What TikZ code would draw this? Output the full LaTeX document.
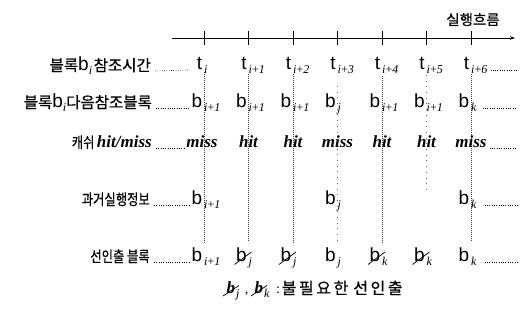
\documentclass[tikz,border=0pt]{standalone}
\usepackage{fontspec}
\setmainfont{Liberation Serif}
\newfontfamily\krf{Noto Sans CJK KR}[FakeBold=0.6]
\newfontfamily\krs{Noto Sans CJK KR}[FakeBold=0.6, LetterSpace=16]
\newfontfamily\lsf{Liberation Sans}
\usetikzlibrary{arrows.meta,calc}
\newcommand\Lt[1]{{\lsf\fontsize{19}{19}\selectfont #1}}
\newcommand\Sx[1]{\raisebox{-3.5pt}{\fontsize{12}{12}\selectfont\itshape #1}}
\newcommand\Ip{{\itshape i}{\upshape +}{\itshape 1}}
\newcommand\Ipn[1]{{\itshape i}{\upshape +}{\itshape #1}}
\newcommand\cellx[2]{\llap{\Lt{#1}\hspace{2pt}}\Sx{#2}}
\newcommand\Kr[1]{\scalebox{0.88}[1.08]{\krf\fontsize{14}{14}\selectfont #1}}
\newcommand\KrB[1]{{\krf\fontsize{15.5}{15.5}\selectfont #1}}
\newcommand\KrF[1]{{\krf\fontsize{14.5}{14.5}\selectfont #1}}
\newcommand\KrL[1]{{\krs\fontsize{16}{16}\selectfont #1}}
\newcommand\slashat[1]{\draw[strike] ([shift={(-14pt,-2.5pt)}]#1.base west) -- ([shift={(3pt,10pt)}]#1.base west);}
\tikzset{
  cell/.style={anchor=base west, inner sep=0pt},
  hm/.style={anchor=base, inner sep=0pt, font=\fontsize{17}{17}\selectfont\bfseries\itshape},
  lab/.style={anchor=base east, inner sep=0pt},
  guide/.style={line width=0.55pt, black!75, dash pattern=on 0.7pt off 1.3pt},
  sparse/.style={line width=0.55pt, black!60, dash pattern=on 0.7pt off 5pt},
  leader/.style={line width=0.6pt, dash pattern=on 0.7pt off 1.6pt},
  strike/.style={line width=0.75pt},
  axis/.style={line width=0.8pt, -{Stealth[length=5pt,width=3.5pt]}},
  tick/.style={line width=0.7pt}
}
\begin{document}
\begin{tikzpicture}[x=1pt,y=-1pt]
\useasboundingbox (0,0) rectangle (520,328);
% columns
\foreach \n/\x in {1/204,2/248.5,3/293,4/337.5,5/382,6/426.5,7/471}{
  \coordinate (tk\n) at (\x,38);
}
% guide lines
\coordinate (g1a) at (204,72);   \coordinate (g1b) at (204,243);
\coordinate (g2a) at (248.5,74); \coordinate (g2b) at (248.5,241);
\coordinate (g3a) at (293,74);   \coordinate (g3b) at (293,244);
\coordinate (g4a) at (337.5,86); \coordinate (g4b) at (337.5,242);
\coordinate (g5a) at (382,76);   \coordinate (g5b) at (382,243);
\coordinate (g6a) at (426.5,75); \coordinate (g6b) at (426.5,190);
\coordinate (g7a) at (471,74);   \coordinate (g7b) at (471,242);
\draw[guide] (g1a) -- (g1b);
\draw[guide] (g2a) -- (g2b);
\draw[guide] (g3a) -- (g3b);
\draw[sparse] (g4a) -- (g4b);
\draw[guide] (g5a) -- (g5b);
\draw[sparse] (g6a) -- (g6b);
\draw[guide] (g7a) -- (g7b);
% axis
\coordinate (ax0) at (172,38);
\coordinate (ax1) at (515,38);
\draw[axis] (ax0) -- (ax1);
\foreach \n in {1,...,7}{
  \draw[tick] ([yshift=7pt]tk\n) -- ([yshift=-7pt]tk\n);
}
\node[anchor=base, inner sep=0pt] (flow) at (473,25) {\KrF{실행흐름}};
% labels
\node[lab] (L1) at (151,71) {\KrB{블록}\Lt{b}\Sx{i}\,\KrB{참조시간}};
\node[lab] (L2) at (152,108) {\KrB{블록}\Lt{b}\Sx{i}\KrB{다음참조블록}};
\node[lab] (L3) at (152,148) {\Kr{캐쉬} {\fontsize{17}{17}\selectfont\bfseries\itshape hit/miss}};
\node[lab] (L4) at (150,205) {\Kr{과거실행정보}};
\node[lab] (L5) at (150,262) {\Kr{선인출 블록}};
% row 1
\node[cell] (r1c1) at (204,70) {\cellx{t}{i}};
\node[cell] (r1c2) at (248.5,70) {\cellx{t}{\Ip}};
\node[cell] (r1c3) at (293,70) {\cellx{t}{\Ipn{2}}};
\node[cell] (r1c4) at (337.5,70) {\cellx{t}{\Ipn{3}}};
\node[cell] (r1c5) at (382,70) {\cellx{t}{\Ipn{4}}};
\node[cell] (r1c6) at (426.5,70) {\cellx{t}{\Ipn{5}}};
\node[cell] (r1c7) at (471,70) {\cellx{t}{\Ipn{6}}};
% row 2
\node[cell] (r2c1) at (204,108) {\cellx{b}{\Ip}};
\node[cell] (r2c2) at (248.5,108) {\cellx{b}{\Ip}};
\node[cell] (r2c3) at (293,108) {\cellx{b}{\Ip}};
\node[cell] (r2c4) at (337.5,108) {\cellx{b}{j}};
\node[cell] (r2c5) at (382,108) {\cellx{b}{\Ip}};
\node[cell] (r2c6) at (426.5,108) {\cellx{b}{\Ip}};
\node[cell] (r2c7) at (471,108) {\cellx{b}{k}};
% row 3
\node[hm] (r3c1) at (202,148) {miss};
\node[hm] (r3c2) at (248.5,148) {hit};
\node[hm] (r3c3) at (293,148) {hit};
\node[hm] (r3c4) at (337.5,148) {miss};
\node[hm] (r3c5) at (382,148) {hit};
\node[hm] (r3c6) at (426.5,148) {hit};
\node[hm] (r3c7) at (471,148) {miss};
% row 4
\node[cell] (r4c1) at (204,205) {\cellx{b}{\Ip}};
\node[cell] (r4c4) at (337.5,205) {\cellx{b}{j}};
\node[cell] (r4c7) at (471,205) {\cellx{b}{k}};
% row 5
\node[cell] (r5c1) at (204,262) {\cellx{b}{\Ip}};
\node[cell] (r5c2) at (248.5,262) {\cellx{b}{j}};
\node[cell] (r5c3) at (293,262) {\cellx{b}{j}};
\node[cell] (r5c4) at (337.5,262) {\cellx{b}{j}};
\node[cell] (r5c5) at (382,262) {\cellx{b}{k}};
\node[cell] (r5c6) at (426.5,262) {\cellx{b}{k}};
\node[cell] (r5c7) at (471,262) {\cellx{b}{k}};
\slashat{r5c2}
\slashat{r5c3}
\slashat{r5c5}
\slashat{r5c6}
% leaders left
\foreach \r/\c in {1/r1c1,2/r2c1,4/r4c1,5/r5c1}{
  \draw[leader] ([xshift=4pt]L\r.base east) -- ([xshift=-15pt]\c.base west);
}
\draw[leader] ([xshift=4pt]L3.base east) -- ([xshift=-2pt]r3c1.base west);
% leaders right
\coordinate (e1) at (516,70);
\coordinate (e2) at (516,108);
\coordinate (e3) at (517,148);
\coordinate (e4) at (517,205);
\coordinate (e5) at (517,262);
\draw[leader] ([xshift=3pt]r1c7.base east) -- (e1);
\draw[leader] ([xshift=6pt]r2c7.base east) -- (e2);
\draw[leader] ([xshift=3pt]r3c7.base east) -- (e3);
\draw[leader] ([xshift=8pt]r4c7.base east) -- (e4);
\draw[leader] ([xshift=8pt]r5c7.base east) -- (e5);
% legend
\node[cell] (lgj) at (236,294) {\llap{{\fontsize{17}{17}\selectfont\bfseries\itshape b}\hspace{1pt}}\Sx{j}};
\node[cell] (lgk) at (264,294) {\llap{{\fontsize{17}{17}\selectfont\bfseries\itshape b}\hspace{1pt}}\Sx{k}};
\node[anchor=base west, inner sep=0pt] (lgc) at (245,294) {\fontsize{13}{13}\selectfont ,};
\node[anchor=base west, inner sep=0pt] (lgt) at (276,294) {{\fontsize{14}{14}\selectfont :}\,\KrL{불필요한}\hspace{5pt}\KrL{선인출}};
\draw[strike] ([shift={(-13pt,-2pt)}]lgj.base west) -- ([shift={(3pt,8.5pt)}]lgj.base west);
\draw[strike] ([shift={(-13pt,-2pt)}]lgk.base west) -- ([shift={(3pt,8.5pt)}]lgk.base west);
\end{tikzpicture}
\end{document}
